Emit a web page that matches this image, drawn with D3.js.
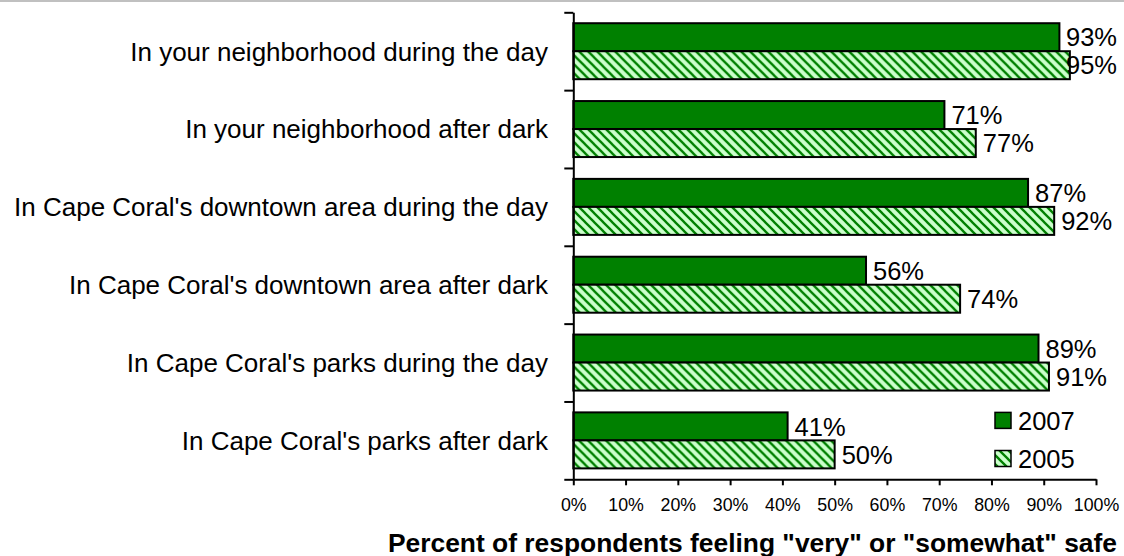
<!DOCTYPE html>
<html>
<head>
<meta charset="utf-8">
<script src="https://cdn.jsdelivr.net/npm/d3@7"></script>
<style>
  html, body { margin: 0; padding: 0; background: #fff; }
  svg { display: block; font-family: Arial, "Liberation Sans", sans-serif; }
</style>
</head>
<body>
<svg id="chart" width="1124" height="556"></svg>
<script>
const categories = [
  "In your neighborhood during the day",
  "In your neighborhood after dark",
  "In Cape Coral's downtown area during the day",
  "In Cape Coral's downtown area after dark",
  "In Cape Coral's parks during the day",
  "In Cape Coral's parks after dark"
];
const seriesNames = ["2007", "2005"];
const values2007 = [93, 71, 87, 56, 89, 41];
const values2005 = [95, 77, 92, 74, 91, 50];
const xTicks = [0, 10, 20, 30, 40, 50, 60, 70, 80, 90, 100];
const axisTitle = 'Percent of respondents feeling "very" or "somewhat" safe';

const seriesValues = { "2007": values2007, "2005": values2005 };
const rows = categories.map((c, i) => ({ cat: c, vals: seriesNames.map(s => ({ s, v: seriesValues[s][i] })) }));

const svg = d3.select("#chart");
const W = 1124, H = 556;
const mLeft = 573.3, mRight = 1096, mTop = 12.3, mBottom = 479.3;

// top gray rule
svg.append("rect").attr("x", 0).attr("y", 0).attr("width", W).attr("height", 2).attr("fill", "#c0c0c0");

// hatch pattern
const defs = svg.append("defs");
const P = 9;
const pat = defs.append("pattern").attr("id", "hatch").attr("patternUnits", "userSpaceOnUse")
  .attr("width", P).attr("height", P);
pat.append("rect").attr("width", P).attr("height", P).attr("fill", "#ccffcc");
pat.append("path").attr("d", `M-2,-2 L${P+2},${P+2} M${-P-2},-2 L2,${P+2} M${P-2},-2 L${2*P+2},${P+2}`)
  .attr("stroke", "#008000").attr("stroke-width", 2.3);

const fills = { "2007": "#008000", "2005": "url(#hatch)" };

const x = d3.scaleLinear().domain([0, 100]).range([mLeft, mRight]);
const y = d3.scaleBand().domain(categories).range([mTop, mBottom]).padding(0);
const y1 = d3.scaleBand().domain(seriesNames).range([0, y.bandwidth()]).paddingInner(0).paddingOuter(0.39);

// bars
const g = svg.append("g");
const groups = g.selectAll("g.row").data(rows).join("g")
  .attr("transform", d => `translate(0,${y(d.cat)})`);
groups.selectAll("rect").data(d => d.vals).join("rect")
  .attr("x", x(0))
  .attr("y", d => y1(d.s))
  .attr("width", d => x(d.v) - x(0))
  .attr("height", y1.bandwidth())
  .attr("fill", d => fills[d.s])
  .attr("stroke", "#000")
  .attr("stroke-width", 2);

// value labels
const maxRight = 1117;
groups.selectAll("text.val").data(d => d.vals).join("text")
  .attr("class", "val")
  .attr("x", d => x(d.v) + 7)
  .attr("y", d => y1(d.s) + y1.bandwidth() / 2)
  .attr("dy", "0.36em")
  .attr("font-size", 25.5)
  .attr("fill", "#000")
  .text(d => d.v + "%")
  .each(function() {
    const w = this.getComputedTextLength();
    const cx = +this.getAttribute("x");
    if (cx + w > maxRight) this.setAttribute("x", maxRight - w);
  });

// y axis (ticks at band boundaries)
const yb = d3.scaleLinear().domain([0, categories.length]).range([mTop, mBottom]);
const yAxis = svg.append("g").attr("transform", `translate(${mLeft},0)`)
  .call(d3.axisLeft(yb).tickValues(d3.range(categories.length + 1)).tickFormat("").tickSize(9).tickSizeOuter(0));
yAxis.selectAll("path,line").attr("stroke", "#000").attr("stroke-width", 2);

// category labels
svg.append("g").selectAll("text").data(categories).join("text")
  .attr("x", 548)
  .attr("y", d => y(d) + y.bandwidth() / 2)
  .attr("dy", "0.36em")
  .attr("text-anchor", "end")
  .attr("font-size", 26)
  .attr("fill", "#000")
  .text(d => d);

// x axis
const xAxis = svg.append("g").attr("transform", `translate(0,${mBottom})`)
  .call(d3.axisBottom(x).tickValues(xTicks).tickFormat(d => d + "%").tickSize(6).tickSizeOuter(0).tickPadding(13.5));
xAxis.selectAll("path,line").attr("stroke", "#000").attr("stroke-width", 2);
xAxis.selectAll("text").attr("font-size", 17.8).attr("fill", "#000").attr("font-family", "Arial, 'Liberation Sans', sans-serif");

// axis title
svg.append("text")
  .attr("x", 1117)
  .attr("y", 551.5)
  .attr("text-anchor", "end")
  .attr("font-size", 26.4)
  .attr("font-weight", "bold")
  .attr("fill", "#000")
  .text(axisTitle);

// legend
const legend = svg.append("g");
const legY = [420.7, 458.8];
seriesNames.forEach((s, i) => {
  legend.append("rect")
    .attr("x", 995).attr("y", legY[i] - 8.3).attr("width", 16).attr("height", 16)
    .attr("fill", fills[s]).attr("stroke", "#000").attr("stroke-width", 1.5);
  legend.append("text")
    .attr("x", 1018).attr("y", legY[i]).attr("dy", "0.36em")
    .attr("font-size", 25.5).attr("fill", "#000").text(s);
});
</script>
</body>
</html>
